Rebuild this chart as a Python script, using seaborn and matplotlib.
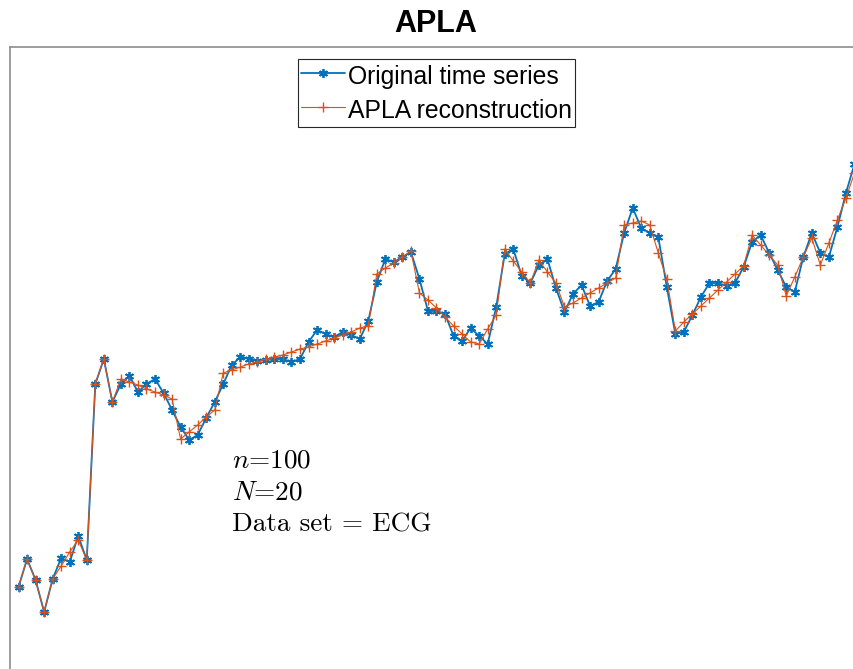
import numpy as np
import pandas as pd
import matplotlib
matplotlib.use("Agg")
import matplotlib.pyplot as plt
import seaborn as sns

# ---- data ----
t = list(range(1, 101))
original = [
    -0.87, -0.59, -0.80, -1.12, -0.79, -0.58, -0.62, -0.36, -0.60, 1.16,
    1.41, 0.98, 1.16, 1.24, 1.08, 1.16, 1.21, 1.07, 0.90, 0.73,
    0.60, 0.65, 0.82, 0.98, 1.16, 1.35, 1.43, 1.41, 1.39, 1.40,
    1.41, 1.41, 1.38, 1.41, 1.58, 1.70, 1.66, 1.63, 1.68, 1.65,
    1.61, 1.79, 2.18, 2.41, 2.38, 2.43, 2.48, 2.21, 1.89, 1.89,
    1.86, 1.64, 1.59, 1.72, 1.64, 1.56, 1.93, 2.46, 2.51, 2.24,
    2.17, 2.35, 2.41, 2.12, 1.88, 2.06, 2.15, 1.94, 1.98, 2.19,
    2.31, 2.67, 2.92, 2.72, 2.67, 2.63, 2.13, 1.66, 1.68, 1.85,
    2.03, 2.17, 2.17, 2.14, 2.17, 2.33, 2.58, 2.65, 2.47, 2.30,
    2.13, 2.08, 2.43, 2.67, 2.47, 2.43, 2.73, 3.07, 3.36, 3.60,
]
apla = [
    -0.87, -0.59, -0.80, -1.12, -0.79, -0.66, -0.52, -0.40, -0.60, 1.16,
    1.41, 0.98, 1.21, 1.18, 1.15, 1.11, 1.08, 1.05, 1.01, 0.61,
    0.68, 0.75, 0.83, 0.90, 1.27, 1.30, 1.33, 1.36, 1.38, 1.41,
    1.43, 1.45, 1.48, 1.51, 1.53, 1.56, 1.59, 1.62, 1.65, 1.68,
    1.72, 1.74, 2.26, 2.32, 2.37, 2.43, 2.49, 2.07, 2.00, 1.92,
    1.83, 1.74, 1.66, 1.58, 1.56, 1.71, 1.85, 2.51, 2.39, 2.28,
    2.17, 2.40, 2.28, 2.17, 1.93, 1.97, 2.02, 2.07, 2.12, 2.17,
    2.22, 2.75, 2.77, 2.79, 2.75, 2.47, 2.21, 1.69, 1.78, 1.86,
    1.94, 2.02, 2.10, 2.18, 2.26, 2.34, 2.65, 2.55, 2.45, 2.35,
    2.04, 2.23, 2.43, 2.62, 2.35, 2.57, 2.80, 3.02, 3.27, 3.50,
]
labels = ["Original time series", "APLA reconstruction"]
title = "APLA"
annotations = [r"$n$=100", r"$N$=20", "Data set = ECG"]

sns.set_style("white")
plt.rcParams["font.family"] = ["Liberation Sans", "DejaVu Sans"]
plt.rcParams["mathtext.fontset"] = "cm"
plt.rcParams["text.color"] = "black"

W, H = 854, 669
fig = plt.figure(figsize=(W / 100, H / 100), dpi=100)
ax_left, ax_right, ax_top, ax_bottom = 10, 863, 47, 700
ax = fig.add_axes([ax_left / W, (H - ax_bottom) / H,
                   (ax_right - ax_left) / W, (ax_bottom - ax_top) / H])

df = pd.DataFrame({"t": t, "original": original, "apla": apla})
sns.lineplot(data=df, x="t", y="original", ax=ax, color="#0072BD", lw=1.3,
             marker=(6, 2, 0), markersize=6.5, markeredgewidth=1.3,
             markeredgecolor="#0072BD", label=labels[0])
sns.lineplot(data=df, x="t", y="apla", ax=ax, color="#D95319", lw=0.8,
             marker="+", markersize=7, markeredgewidth=1.0,
             markeredgecolor="#D95319", label=labels[1])

ax.set_xlim(0, 100)
ax.set_ylim(-2.0, 4.53)
ax.set_xticks([])
ax.set_yticks([])
ax.set_xlabel("")
ax.set_ylabel("")
for s in ax.spines.values():
    s.set_color("#8c8c8c")
    s.set_linewidth(1.2)

leg = ax.legend(loc="upper center", bbox_to_anchor=(0.5, 1 - 12 / (ax_bottom - ax_top)),
                fontsize=17.8, frameon=True, fancybox=False, framealpha=1,
                edgecolor="#262626", borderpad=0.12, handlelength=1.75,
                handleheight=1.38, handletextpad=0.12, labelspacing=0.22,
                borderaxespad=0)
leg.get_frame().set_linewidth(0.8)
for tx in leg.get_texts():
    tx.set_color("black")

fig.text(436 / W, 1 - 24 / H, title, ha="center", va="center",
         fontsize=22, fontweight="bold", color="black")

for txt, yb in zip(annotations, [467, 499, 531]):
    fig.text(232 / W, 1 - yb / H, txt, ha="left", va="baseline",
             fontsize=19.6, family=["cmr10", "DejaVu Serif"], color="black")

fig.savefig("out.png", dpi=100)
